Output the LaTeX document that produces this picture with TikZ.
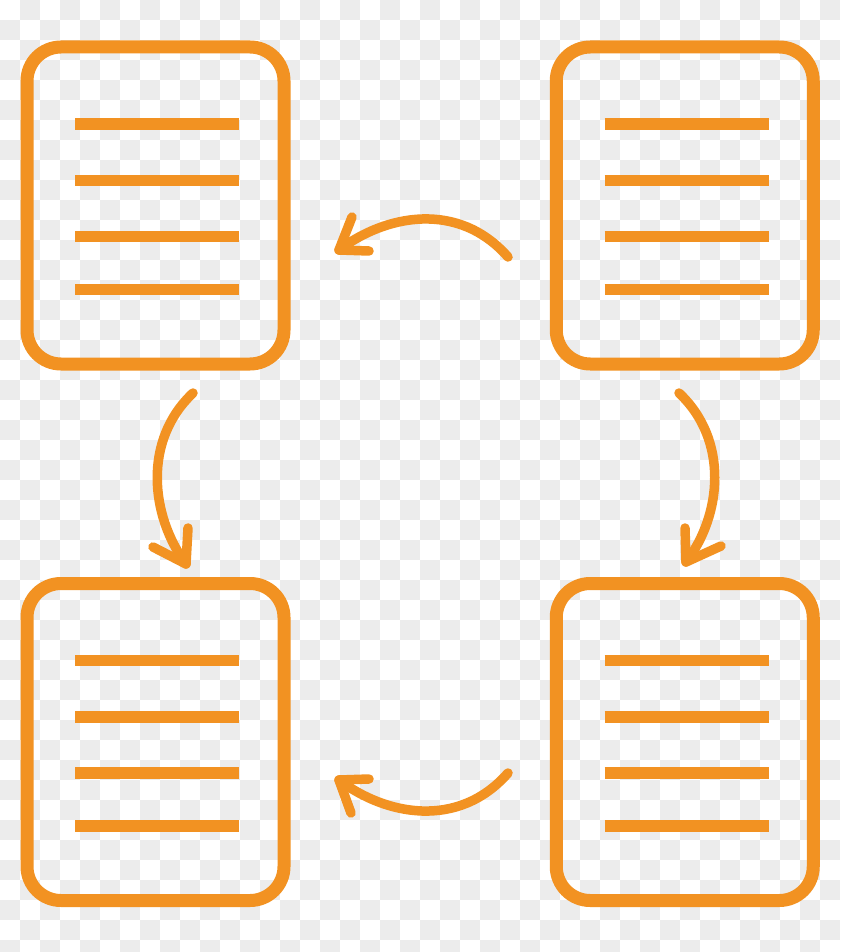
\documentclass[tikz,border=0pt]{standalone}
\definecolor{docorange}{RGB}{242,146,34}
\definecolor{checker}{RGB}{236,236,236}
\begin{document}
\begin{tikzpicture}[x=1pt,y=-1pt,
  docbox/.style={draw=docorange,line width=13pt,rounded corners=34pt,minimum width=257pt,minimum height=317pt,inner sep=0pt,outer sep=0pt},
  docline/.style={draw=docorange,line width=11.5pt,line cap=butt},
  curvearrow/.style={draw=docorange,line width=9.5pt,line cap=round,line join=round}]
\useasboundingbox (0,0) rectangle (840,952);
\fill[white] (0,0) rectangle (840,952);
\foreach \i in {0,...,41}{
  \foreach \j in {0,...,47}{
    \pgfmathtruncatemacro\chk{mod(\i+\j,2)}%
    \ifnum\chk=1 \fill[checker] (20*\i,20*\j) rectangle ++(20,20);\fi
  }
}
% documents
\node[docbox] (tl) at (155.5,205.5) {};
\node[docbox] (tr) at (684.75,205.5) {};
\node[docbox] (bl) at (155.5,742) {};
\node[docbox] (br) at (684.75,742) {};
\foreach \b/\x/\y in {tl/27/47, tr/556.5/47, bl/27/583.5, br/556.5/583.5}{
  \foreach \dy in {77,133.5,189.5,242.5}{
    \draw[docline] (\x+48,\y+\dy) -- (\x+212,\y+\dy);
  }
}
% arrow coordinates
\coordinate (ta0) at (508,257);
\coordinate (ta1) at (339,250);
\coordinate (tah1) at (352,217);
\coordinate (tah2) at (369,251);
\coordinate (ba0) at (508,773);
\coordinate (ba1) at (339,780);
\coordinate (bah1) at (351,813);
\coordinate (bah2) at (369,779);
\coordinate (la0) at (193,393);
\coordinate (la1) at (186,564);
\coordinate (lah1) at (188,528);
\coordinate (lah2) at (153,547);
\coordinate (ra0) at (679,393);
\coordinate (ra1) at (686,562);
\coordinate (rah1) at (685,528);
\coordinate (rah2) at (721,546);
% arrows
\draw[curvearrow] (ta0) .. controls (458,200) and (385,215) .. (ta1);
\draw[curvearrow] (tah1) -- (ta1) -- (tah2);
\draw[curvearrow] (ba0) .. controls (458,830) and (385,815) .. (ba1);
\draw[curvearrow] (bah1) -- (ba1) -- (bah2);
\draw[curvearrow] (la0) .. controls (143,440) and (150,515) .. (la1);
\draw[curvearrow] (lah1) -- (la1) -- (lah2);
\draw[curvearrow] (ra0) .. controls (729,440) and (722,515) .. (ra1);
\draw[curvearrow] (rah1) -- (ra1) -- (rah2);
\end{tikzpicture}
\end{document}
